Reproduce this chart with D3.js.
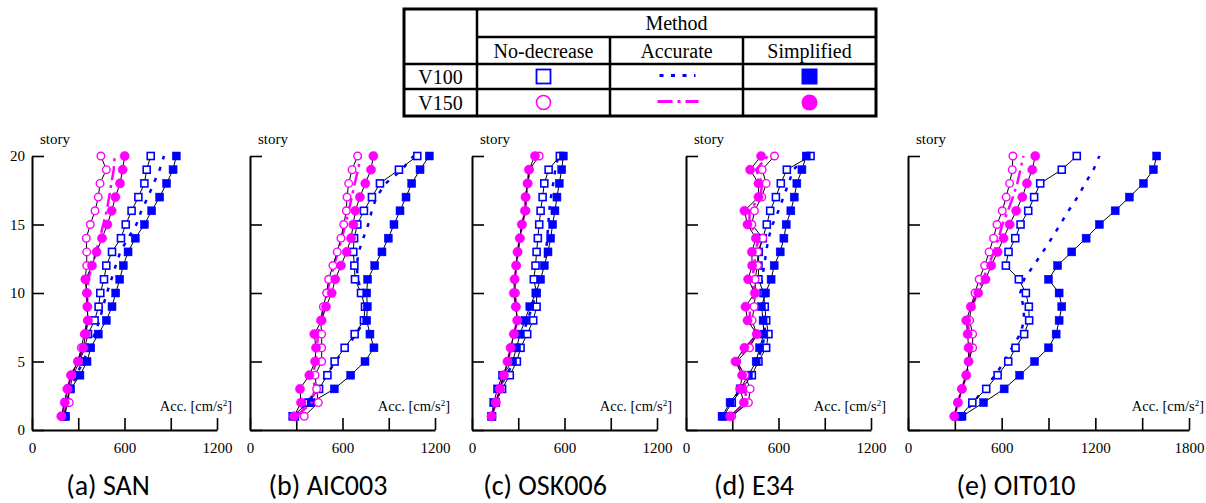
<!DOCTYPE html>
<html>
<head>
<meta charset="utf-8">
<script src="https://cdn.jsdelivr.net/npm/d3@7"></script>
<style>
  body { margin: 0; background: #fff; }
</style>
</head>
<body>
<div id="chart"></div>
<script>
// stories 1..20, values in cm/s^2 (story 1 first)
const stories = d3.range(1, 21);

const sanV100Nd   = [214,223,244,266,309,342,363,406,432,443,467,482,519,577,608,646,690,729,744,770];
const sanV100Acc  = [223,233,255,288,331,374,406,439,460,486,515,543,573,623,677,709,752,789,828,856];
const sanV100Simp = [218,223,251,311,357,381,430,482,519,543,569,592,623,670,729,776,828,873,915,936];
const sanV150Nd   = [192,242,233,251,298,320,339,361,359,355,344,355,355,352,378,409,430,441,482,447];
const sanV150Acc  = [195,215,230,255,300,330,345,358,358,360,365,390,415,440,462,485,500,515,530,536];
const sanV150Simp = [190,212,229,255,298,333,348,363,359,357,348,389,419,454,489,517,541,571,588,601];

const aicV100Nd   = [277,378,448,502,549,614,679,739,746,720,681,677,670,675,696,739,791,843,966,1085];
const aicV100Acc  = [280,370,440,495,555,620,690,740,750,725,700,692,705,735,767,790,820,880,985,1060];
const aicV100Simp = [292,396,547,653,746,804,778,757,761,757,763,809,856,897,934,973,1012,1049,1103,1163];
const aicV150Nd   = [352,443,432,422,465,465,465,458,476,497,510,538,566,590,608,625,629,640,662,698];
const aicV150Acc  = [300,400,420,410,425,435,440,460,480,500,520,545,570,595,620,640,660,680,700,720];
const aicV150Simp = [285,331,324,385,422,428,417,465,493,530,553,590,627,655,670,683,713,748,785,800];

const oskV100Nd   = [130,154,195,245,291,315,358,397,419,419,401,412,419,427,436,445,458,469,497,570];
const oskV100Acc  = [128,148,180,220,275,300,330,360,390,419,440,462,480,488,495,501,512,527,540,560];
const oskV100Simp = [126,141,165,197,263,289,312,343,375,414,445,469,493,510,523,538,551,566,582,592];
const oskV150Nd   = [126,156,182,208,232,252,273,295,286,282,278,288,297,312,325,350,350,363,372,436];
const oskV150Acc  = [128,156,182,208,232,252,272,294,286,275,278,288,296,311,324,345,349,362,372,425];
const oskV150Simp = [126,154,180,206,230,250,271,293,284,271,276,286,295,310,323,343,347,360,369,408];

const e34V100Nd   = [243,297,362,427,470,520,535,520,511,503,470,470,472,498,524,546,583,615,654,808];
const e34V100Acc  = [238,290,357,416,463,492,513,507,503,492,492,507,520,535,561,600,632,665,697,784];
const e34V100Simp = [234,286,351,405,455,477,505,500,490,516,552,572,611,635,650,680,702,719,752,780];
const e34V150Nd   = [297,405,416,383,329,412,459,429,442,451,448,464,466,498,427,444,492,520,494,574];
const e34V150Acc  = [292,390,385,372,325,396,459,414,414,448,425,446,446,475,413,411,481,495,455,530];
const e34V150Simp = [286,375,351,364,321,379,459,399,386,446,403,429,427,453,399,379,470,470,416,487];

const oitV100Nd   = [335,412,501,574,642,689,744,776,774,755,710,627,644,687,721,770,808,847,985,1081];
const oitV100Acc  = [335,420,484,559,616,665,719,744,740,719,744,804,864,921,975,1028,1086,1135,1188,1226];
const oitV100Simp = [346,484,616,715,811,900,949,968,985,968,900,958,1049,1141,1226,1327,1418,1508,1572,1593];
const oitV150Nd   = [296,318,343,373,388,414,414,395,403,429,456,491,520,548,570,604,629,651,668,672];
const oitV150Acc  = [298,320,345,375,390,400,390,385,410,445,480,515,550,580,605,640,672,700,720,740];
const oitV150Simp = [296,320,346,373,388,388,382,373,403,450,497,533,574,612,651,693,732,762,796,815];

const panelTitles = ["(a) SAN", "(b) AIC003", "(c) OSK006", "(d) E34", "(e) OIT010"];
const panelXMax = [1200, 1200, 1200, 1200, 1800];
const panelData = [
  [sanV100Nd, sanV100Acc, sanV100Simp, sanV150Nd, sanV150Acc, sanV150Simp],
  [aicV100Nd, aicV100Acc, aicV100Simp, aicV150Nd, aicV150Acc, aicV150Simp],
  [oskV100Nd, oskV100Acc, oskV100Simp, oskV150Nd, oskV150Acc, oskV150Simp],
  [e34V100Nd, e34V100Acc, e34V100Simp, e34V150Nd, e34V150Acc, e34V150Simp],
  [oitV100Nd, oitV100Acc, oitV100Simp, oitV150Nd, oitV150Acc, oitV150Simp]
];

const blue = "#0000ff";
const magenta = "#ff00ff";
const serif = "Liberation Serif";

// layout (pixel positions of each panel's axes)
const layout = [
  { left: 32, right: 217, titleX: 108 },
  { left: 250, right: 435, titleX: 328 },
  { left: 472, right: 657, titleX: 545 },
  { left: 686, right: 871, titleX: 754 },
  { left: 908, right: 1189, titleX: 1016 }
];
const yTop = 156, yBottom = 430;

const svg = d3.select("#chart").append("svg")
  .attr("width", 1206)
  .attr("height", 503);

svg.append("rect").attr("width", 1206).attr("height", 503).attr("fill", "#fff");

function drawPanel(i) {
  const lay = layout[i];
  const xMax = panelXMax[i];
  const [v100Nd, v100Acc, v100Simp, v150Nd, v150Acc, v150Simp] = panelData[i];

  const x = d3.scaleLinear().domain([0, xMax]).range([lay.left, lay.right]);
  const y = d3.scaleLinear().domain([0, 20]).range([yBottom, yTop]);
  const g = svg.append("g");

  // axes
  const xAxis = d3.axisBottom(x)
    .tickValues(d3.range(0, xMax + 1, 300))
    .tickSize(-12).tickSizeOuter(0).tickPadding(12)
    .tickFormat(d => d % 600 === 0 ? d : "");
  const gx = g.append("g")
    .attr("transform", "translate(0," + yBottom + ")")
    .call(xAxis);

  const yAxis = d3.axisLeft(y)
    .tickValues([0, 5, 10, 15, 20])
    .tickSize(-12).tickSizeOuter(0).tickPadding(7)
    .tickFormat(d => i === 0 ? d : "");
  const gy = g.append("g")
    .attr("transform", "translate(" + lay.left + ",0)")
    .call(yAxis);

  [gx, gy].forEach(a => {
    a.attr("font-family", serif).attr("font-size", 15);
    a.select(".domain").attr("stroke", "#000").attr("stroke-width", 2);
    a.selectAll(".tick line").attr("stroke", "#000").attr("stroke-width", 1.6);
    a.selectAll("text").attr("font-family", serif)
      .attr("font-size", 15).attr("fill", "#000");
  });

  g.append("text")
    .attr("x", lay.left + 8).attr("y", 144)
    .attr("font-family", serif)
    .attr("font-size", 15)
    .text("story");

  const acc = g.append("text")
    .attr("x", lay.right + 15).attr("y", 411)
    .attr("text-anchor", "end")
    .attr("font-family", serif)
    .attr("font-size", 14.5);
  acc.append("tspan").text("Acc. [cm/s");
  acc.append("tspan").attr("dy", -5).attr("font-size", 9).text("2");
  acc.append("tspan").attr("dy", 5).text("]");

  const line = d3.line()
    .x(d => x(d[1]))
    .y(d => y(d[0]));
  const pts = arr => stories.map((s, k) => [s, arr[k]]);

  // accurate method: dashed lines without markers
  g.append("path").datum(pts(v100Acc))
    .attr("d", line).attr("fill", "none")
    .attr("stroke", blue).attr("stroke-width", 2.5)
    .attr("stroke-dasharray", "4,8");

  function markerSeries(arr, shape, filled, color) {
    g.append("path").datum(pts(arr))
      .attr("d", line).attr("fill", "none")
      .attr("stroke", "#000").attr("stroke-width", 1);
    const sel = g.append("g").selectAll(".m").data(pts(arr)).enter();
    if (shape === "square") {
      const s = filled ? 8 : 7;
      sel.append("rect")
        .attr("x", d => x(d[1]) - s / 2)
        .attr("y", d => y(d[0]) - s / 2)
        .attr("width", s).attr("height", s)
        .attr("fill", filled ? color : "#fff")
        .attr("stroke", color).attr("stroke-width", filled ? 0.5 : 1.6);
    } else {
      sel.append("circle")
        .attr("cx", d => x(d[1]))
        .attr("cy", d => y(d[0]))
        .attr("r", filled ? 4.6 : 3.8)
        .attr("fill", filled ? color : "#fff")
        .attr("stroke", color).attr("stroke-width", filled ? 0.5 : 1.4);
    }
  }

  markerSeries(v100Nd, "square", false, blue);
  markerSeries(v100Simp, "square", true, blue);

  g.append("path").datum(pts(v150Acc))
    .attr("d", line).attr("fill", "none")
    .attr("stroke", magenta).attr("stroke-width", 2.5)
    .attr("stroke-dasharray", "14,5,3,5");

  markerSeries(v150Nd, "circle", false, magenta);
  markerSeries(v150Simp, "circle", true, magenta);

  g.append("text")
    .attr("x", lay.titleX).attr("y", 495)
    .attr("text-anchor", "middle")
    .attr("font-family", "Carlito")
    .attr("font-size", 28)
    .text(panelTitles[i]);
}

panelTitles.forEach((t, i) => drawPanel(i));

// legend table
const methods = ["No-decrease", "Accurate", "Simplified"];
const levels = ["V100", "V150"];
const colX = [404, 477, 610, 743, 876];
const rowY = [9, 37, 64, 89, 116];

const lg = svg.append("g");
lg.append("rect")
  .attr("x", colX[0]).attr("y", rowY[0])
  .attr("width", colX[4] - colX[0]).attr("height", rowY[4] - rowY[0])
  .attr("fill", "none").attr("stroke", "#000").attr("stroke-width", 3);
// horizontal lines
lg.append("line").attr("x1", colX[1]).attr("x2", colX[4]).attr("y1", rowY[1]).attr("y2", rowY[1]);
[2, 3].forEach(r => lg.append("line").attr("x1", colX[0]).attr("x2", colX[4]).attr("y1", rowY[r]).attr("y2", rowY[r]));
// vertical lines
lg.append("line").attr("x1", colX[1]).attr("x2", colX[1]).attr("y1", rowY[0]).attr("y2", rowY[4]);
[2, 3].forEach(c => lg.append("line").attr("x1", colX[c]).attr("x2", colX[c]).attr("y1", rowY[1]).attr("y2", rowY[4]));
lg.selectAll("line").attr("stroke", "#000").attr("stroke-width", 2.5);

function legendText(txt, xPos, yPos) {
  lg.append("text")
    .attr("x", xPos).attr("y", yPos)
    .attr("text-anchor", "middle")
    .attr("font-family", serif).attr("font-size", 20)
    .text(txt);
}

legendText("Method", (colX[1] + colX[4]) / 2, 30);
methods.forEach((m, k) => legendText(m, (colX[k + 1] + colX[k + 2]) / 2, 58));

levels.forEach((lv, r) => {
  const cy = (rowY[r + 2] + rowY[r + 3]) / 2;
  const color = r === 0 ? blue : magenta;
  legendText(lv, (colX[0] + colX[1]) / 2, cy + 7);
  const c1 = (colX[1] + colX[2]) / 2, c2 = (colX[2] + colX[3]) / 2, c3 = (colX[3] + colX[4]) / 2;
  if (r === 0) {
    lg.append("rect").attr("x", c1 - 7).attr("y", cy - 7).attr("width", 14).attr("height", 14)
      .attr("fill", "#fff").attr("stroke", color).attr("stroke-width", 1.8);
    lg.append("rect").attr("x", c3 - 8).attr("y", cy - 8).attr("width", 16).attr("height", 16)
      .attr("fill", color);
    lg.append("line").attr("x1", c2 - 17).attr("x2", c2 + 19).attr("y1", cy - 1).attr("y2", cy - 1)
      .attr("stroke", color).attr("stroke-width", 3).attr("stroke-dasharray", "4,7.5");
  } else {
    lg.append("circle").attr("cx", c1).attr("cy", cy).attr("r", 7)
      .attr("fill", "#fff").attr("stroke", color).attr("stroke-width", 1.6);
    lg.append("circle").attr("cx", c3).attr("cy", cy).attr("r", 8)
      .attr("fill", color);
    lg.append("line").attr("x1", c2 - 19).attr("x2", c2 + 22).attr("y1", cy - 1).attr("y2", cy - 1)
      .attr("stroke", color).attr("stroke-width", 3).attr("stroke-dasharray", "15,5,3,5");
  }
});
</script>
</body>
</html>
